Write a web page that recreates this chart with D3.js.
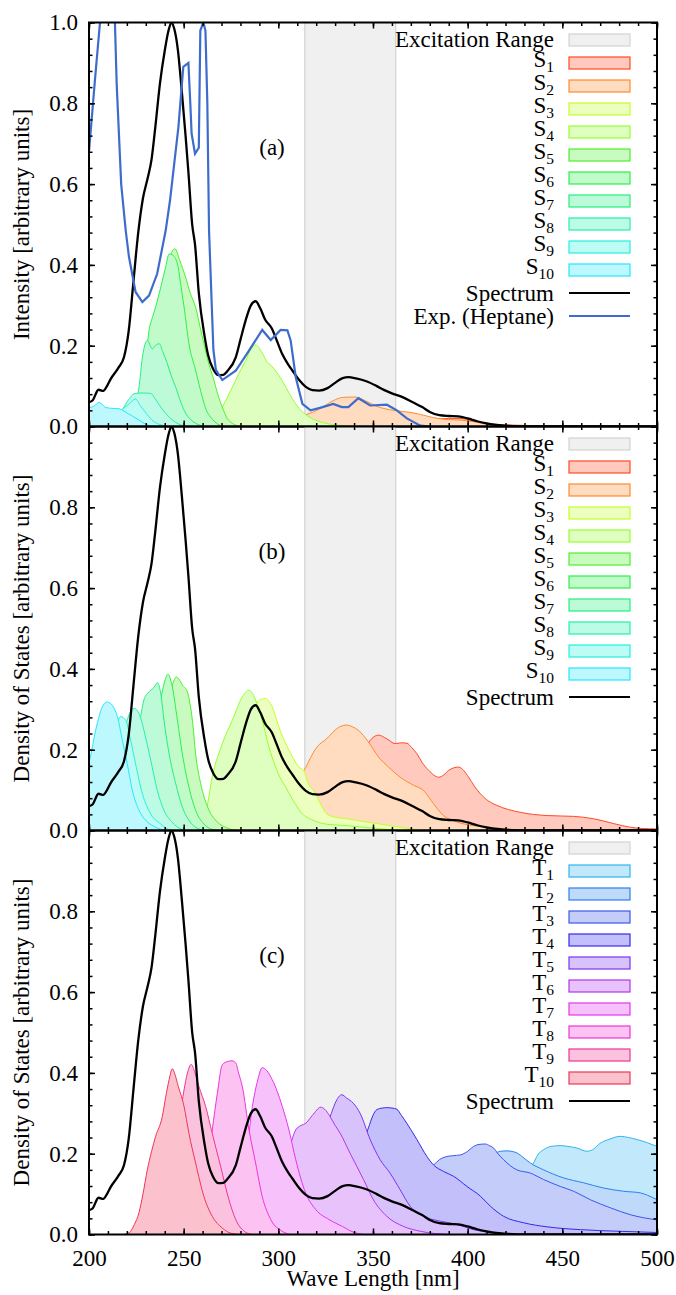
<!DOCTYPE html>
<html>
<head>
<meta charset="utf-8">
<script src="https://cdn.jsdelivr.net/npm/d3@7"></script>
<style>
  body { margin: 0; background: #fff; }
  svg { display: block; }
  svg text { font-family: "Liberation Serif", "Times New Roman", Times, "DejaVu Serif", "Noto Serif", serif !important; fill: #000; }
</style>
</head>
<body>
<div id="chart"></div>
<script>
//Values, [wavelength nm, intensity]
const spectrum = [[200,0.06],[202,0.065],[205,0.091],[207.5,0.088],[209.5,0.1],[211.5,0.118],[215.5,0.145],[218.5,0.172],[221,0.238],[223.5,0.36],[226,0.48],[228.5,0.565],[231,0.615],[233,0.66],[235,0.74],[237.5,0.85],[240,0.93],[242,0.98],[243.5,1.0],[245,0.985],[247,0.93],[249,0.83],[251,0.72],[252.5,0.63],[254.5,0.5],[256,0.45],[258,0.33],[261,0.225],[263,0.175],[265.5,0.143],[268.5,0.127],[271,0.128],[273,0.137],[277.5,0.171],[280,0.215],[282.7,0.262],[285.5,0.3],[288,0.31],[290.5,0.292],[293,0.265],[296.5,0.243],[299,0.215],[302,0.18],[305,0.155],[307.5,0.138],[311,0.115],[314.5,0.098],[318,0.09],[321.5,0.089],[326,0.095],[330,0.108],[334,0.12],[337,0.122],[341,0.119],[346.5,0.112],[352,0.1],[356,0.09],[360,0.082],[365,0.074],[371,0.06],[376,0.048],[380,0.036],[385,0.028],[390,0.026],[395,0.025],[400,0.02],[405,0.013],[410,0.008],[415,0.004],[420,0.002],[430,0],[500,0]];

const expHeptane = [[200,0.68],[203,0.85],[205.8,1.0],[208,1.15],[211,1.15],[213.7,1.0],[214.6,0.85],[217,0.6],[219.4,0.485],[221.1,0.42],[224.6,0.333],[228.2,0.308],[231.7,0.324],[236,0.378],[240.5,0.485],[242.8,0.56],[245,0.65],[247.2,0.74],[249.8,0.89],[252.5,0.9],[253.5,0.8],[254.2,0.725],[256,0.675],[258,0.69],[258.8,0.98],[260.4,1.0],[261.5,0.98],[262.5,0.8],[263.4,0.485],[265.7,0.19],[267,0.14],[270.4,0.115],[277.5,0.138],[284.5,0.188],[291.5,0.239],[296,0.214],[301.2,0.239],[304.8,0.238],[306.5,0.213],[309.2,0.122],[312.7,0.056],[317,0.04],[322,0.046],[329,0.056],[333.5,0.048],[337,0.048],[342.3,0.07],[348.5,0.052],[357.3,0.054],[362.6,0.04],[367.9,0.02],[375,0.002],[380,0]];

//panel (a): singlets weighted
const s1a = [[320,0],[330,0.005],[340,0.012],[350,0.02],[355,0.022],[362,0.02],[370,0.02],[380,0.018],[390,0.02],[396,0.02],[402,0.015],[410,0.008],[420,0.004],[440,0.002],[460,0.001],[500,0]];
const s2a = [[295,0],[305,0.01],[312,0.025],[318,0.035],[324,0.05],[329,0.064],[334,0.072],[340.5,0.073],[346.7,0.062],[352,0.05],[360.7,0.04],[369.6,0.035],[375,0.03],[381.8,0.022],[390,0.017],[396,0.016],[403,0.012],[410,0.006],[420,0.002],[430,0]];
const s3a = [[265,0],[280,0.005],[290,0.01],[300,0.012],[310,0.008],[320,0.004],[335,0]];
const s4a = [[262,0],[266,0.012],[270.4,0.048],[275.7,0.097],[279,0.13],[282.7,0.163],[286,0.195],[288,0.202],[291.5,0.182],[294,0.16],[296,0.152],[299,0.135],[302,0.114],[306,0.08],[309,0.057],[313,0.035],[316.2,0.024],[323.2,0.01],[330,0.004],[340,0]];
const s5a = [[225,0],[230,0.03],[235,0.15],[238,0.28],[241,0.38],[243.5,0.43],[245.4,0.44],[248,0.41],[251,0.37],[253.5,0.33],[256.3,0.295],[258.5,0.25],[260.7,0.205],[263,0.16],[266,0.114],[268,0.08],[270.4,0.048],[273,0.02],[275.7,0.008],[280,0]];
const s6a = [[222,0],[226,0.02],[229,0.1],[231.7,0.238],[233.5,0.27],[235.2,0.296],[237.9,0.345],[240.5,0.395],[242.3,0.427],[244,0.425],[246.7,0.403],[248.5,0.35],[250.2,0.296],[252.8,0.205],[256.3,0.139],[259.9,0.072],[262,0.04],[264.3,0.023],[268,0.006],[272,0]];
const s7a = [[218,0],[222,0.02],[224.5,0.06],[226.4,0.097],[228.2,0.171],[230.8,0.213],[233.5,0.192],[235,0.2],[237,0.205],[239,0.185],[241.4,0.155],[243.5,0.125],[245.8,0.097],[248.5,0.06],[251,0.033],[253.5,0.018],[256.3,0.008],[262,0]];
const s8a = [[210,0],[214,0.015],[217,0.035],[219.4,0.056],[221.5,0.07],[223.8,0.081],[228,0.083],[232.6,0.082],[235,0.068],[237.9,0.048],[241,0.03],[244,0.016],[247,0.007],[252,0]];
const s9a = [[210,0],[214,0.03],[218,0.044],[221,0.055],[224.6,0.068],[227,0.052],[229,0.04],[231.5,0.025],[234.3,0.012],[238,0.004],[242,0]];
const s10a = [[200,0.047],[202.5,0.05],[205.3,0.06],[208.8,0.047],[212,0.045],[215.8,0.044],[218.5,0.038],[221,0.031],[223.5,0.024],[226.4,0.016],[229,0.008],[232,0.002],[236,0]];

//panel (b): singlet density of states
const s1b = [[315,0],[322,0.015],[330,0.05],[338,0.12],[344,0.18],[348.5,0.223],[352.9,0.236],[357.3,0.227],[361.7,0.215],[365,0.217],[367.9,0.216],[370.5,0.205],[373.2,0.19],[376,0.168],[379.4,0.149],[384.7,0.132],[387.5,0.138],[390,0.149],[395.2,0.157],[398,0.148],[400.5,0.132],[403.5,0.11],[406.7,0.091],[411,0.073],[415.5,0.062],[427.8,0.045],[441.9,0.037],[456,0.035],[466.6,0.029],[477.2,0.017],[486,0.008],[492,0.005],[500,0.004]];
const s2b = [[288,0],[293,0.01],[298,0.03],[303,0.07],[308,0.11],[311.5,0.14],[313.6,0.149],[317,0.18],[320.3,0.206],[325.5,0.227],[329.9,0.248],[333,0.258],[336.1,0.261],[339,0.257],[342.3,0.248],[347.6,0.219],[352.9,0.182],[358.2,0.157],[364.3,0.132],[371.4,0.112],[376.7,0.099],[382,0.066],[387.2,0.037],[394.3,0.021],[403,0.012],[413.6,0.007],[422,0.003],[432,0]];
const s3b = [[262,0],[266,0.02],[270,0.06],[275,0.13],[280,0.2],[285,0.27],[289,0.318],[291,0.325],[293.3,0.327],[295,0.32],[296.8,0.306],[299,0.275],[301.2,0.245],[305.6,0.199],[311,0.157],[313.2,0.149],[316.2,0.112],[318.5,0.099],[323.2,0.058],[325.5,0.041],[330,0.033],[336.1,0.029],[346.6,0.021],[359,0.012],[370,0.004],[380,0]];
const s4b = [[258,0],[262,0.05],[265.1,0.133],[270.4,0.215],[275.7,0.273],[281,0.331],[284.5,0.347],[286,0.342],[288,0.323],[291.5,0.273],[295,0.207],[298.6,0.157],[301,0.13],[303.9,0.107],[307.9,0.074],[312,0.045],[318.5,0.025],[325,0.016],[336,0.012],[350,0.006],[365,0]];
const s5b = [[225,0],[229,0.02],[233,0.08],[237,0.18],[240,0.27],[242,0.33],[244,0.36],[246.1,0.38],[247.5,0.375],[249.3,0.36],[251.9,0.344],[253.5,0.31],[254.6,0.273],[256.3,0.19],[259,0.116],[261,0.08],[263.4,0.05],[267.8,0.021],[272,0.008],[278,0]];
const s6b = [[220,0],[224,0.02],[228,0.08],[231,0.16],[234,0.24],[236.5,0.3],[238.5,0.34],[240,0.37],[241.7,0.387],[243,0.375],[244,0.356],[246.7,0.273],[249.3,0.19],[252.8,0.107],[256.3,0.05],[260.7,0.016],[265,0.003],[270,0]];
const s7b = [[212,0],[216,0.015],[218.5,0.04],[221,0.091],[223.8,0.174],[226.4,0.256],[229,0.323],[231,0.34],[232.6,0.347],[234.5,0.355],[236.1,0.366],[237.9,0.339],[239.6,0.273],[242.3,0.19],[245.8,0.116],[249.3,0.058],[252.8,0.025],[257,0.006],[262,0]];
const s8b = [[205,0],[208,0.015],[211.4,0.058],[215,0.141],[217.6,0.207],[220.2,0.273],[223.8,0.302],[226.4,0.29],[229,0.248],[232.6,0.174],[236.1,0.099],[239.6,0.05],[244,0.02],[248,0.005],[252,0]];
const s9b = [[200,0.005],[203.5,0.033],[207,0.091],[210.6,0.174],[214,0.25],[216.7,0.282],[219.4,0.273],[222,0.223],[224.6,0.165],[228.2,0.091],[232.6,0.041],[237.9,0.016],[242,0.003],[246,0]];
const s10b = [[200,0.165],[201.5,0.2],[203.5,0.248],[205.5,0.285],[207,0.306],[209.7,0.318],[212.3,0.31],[213.5,0.3],[215,0.282],[217.6,0.223],[220.2,0.165],[222.9,0.099],[226.4,0.05],[230,0.025],[235.2,0.008],[240,0]];

//panel (c): triplet density of states
const t1c = [[400,0],[410,0.01],[420,0.05],[427,0.1],[431,0.15],[434.8,0.177],[437,0.197],[440.1,0.21],[444,0.218],[448.9,0.22],[453,0.218],[457.7,0.214],[463,0.206],[466,0.21],[470,0.226],[475,0.236],[480.6,0.243],[485,0.24],[489.4,0.235],[495,0.227],[500,0.218]];
const t2c = [[370,0],[380,0.02],[390,0.05],[400,0.12],[410,0.18],[417.3,0.206],[420.8,0.207],[424,0.205],[426,0.202],[429.5,0.19],[433.1,0.177],[440.1,0.16],[450.7,0.14],[461.2,0.128],[471.8,0.115],[482.4,0.107],[491.2,0.103],[495,0.097],[500,0.086]];
const t3c = [[340,0],[350,0.03],[360,0.08],[370,0.13],[378,0.16],[382,0.172],[385,0.185],[389,0.193],[392,0.195],[396.1,0.197],[400,0.206],[403.1,0.218],[406,0.223],[409.3,0.224],[411.5,0.22],[413.7,0.214],[416,0.2],[419,0.185],[426,0.16],[433.1,0.152],[440.1,0.136],[448.9,0.119],[456,0.107],[464.8,0.086],[475.4,0.066],[485.9,0.049],[500,0.036]];
const t4c = [[315,0],[322,0.03],[330,0.1],[338,0.17],[344,0.22],[347.6,0.264],[350,0.295],[352,0.309],[355,0.313],[357.3,0.314],[360,0.313],[362.6,0.31],[365,0.295],[367.9,0.275],[373.2,0.235],[378.5,0.193],[382,0.172],[387.3,0.156],[392.6,0.144],[399.6,0.119],[406.7,0.095],[412,0.07],[419,0.045],[429.6,0.029],[441.9,0.019],[459.5,0.012],[480,0.008],[500,0.005]];
const t5c = [[300,0],[305,0.02],[310,0.06],[315,0.12],[320,0.19],[325,0.26],[328,0.3],[330.5,0.33],[333.5,0.346],[336,0.338],[339.6,0.325],[343.2,0.3],[348.5,0.235],[353.8,0.185],[359,0.152],[364.3,0.111],[369.6,0.07],[376.7,0.045],[385.5,0.033],[394.3,0.025],[403,0.012],[412,0.005],[430,0]];
const t6c = [[285,0],[290,0.02],[295,0.06],[300,0.12],[305,0.2],[309.2,0.259],[312,0.27],[314.4,0.275],[318,0.295],[322.4,0.315],[324.5,0.31],[327.3,0.292],[330,0.27],[332.6,0.251],[337.9,0.201],[345,0.136],[350.2,0.086],[357.3,0.045],[366.1,0.02],[375,0.008],[390,0]];
const t7c = [[265,0],[270,0.02],[275,0.07],[280,0.15],[283.6,0.22],[286.3,0.317],[289,0.38],[291.5,0.413],[294,0.405],[296.8,0.383],[302.1,0.317],[305.6,0.259],[309.2,0.185],[314.4,0.103],[319.7,0.062],[326.8,0.037],[333.8,0.02],[340,0.005],[345,0]];
const t8c = [[245,0],[250,0.005],[255,0.03],[259,0.08],[262,0.15],[265.1,0.259],[267.8,0.35],[270.4,0.42],[273,0.428],[275.5,0.43],[277.5,0.425],[279,0.4],[281,0.366],[284.5,0.259],[288,0.177],[291.5,0.094],[296,0.037],[302.1,0.008],[306,0]];
const t9c = [[228,0],[233,0.01],[237,0.04],[241,0.1],[245,0.2],[248,0.29],[250.2,0.358],[252,0.4],[254,0.421],[256,0.4],[258.1,0.366],[261.6,0.317],[265.1,0.25],[269.5,0.169],[273.9,0.086],[278.3,0.029],[282,0.008],[286,0]];
const t10c = [[218,0],[221.1,0.004],[224,0.025],[226.4,0.054],[228.5,0.1],[230.8,0.16],[233,0.205],[235.2,0.243],[238.7,0.292],[240.5,0.34],[242.3,0.383],[244,0.41],[245.5,0.395],[246.7,0.374],[250.2,0.317],[252.8,0.25],[256.3,0.177],[260.7,0.094],[265.1,0.045],[270.4,0.016],[275,0.003],[280,0]];

const stateNumbers = ["1","2","3","4","5","6","7","8","9","10"];
const excitationRange = [314, 362];
const xTicks = [200, 250, 300, 350, 400, 450, 500];
const yTicksFull = [0, 0.2, 0.4, 0.6, 0.8, 1.0];
const yTicksCut = [0, 0.2, 0.4, 0.6, 0.8];
const panelLetters = ["(a)", "(b)", "(c)"];

let width = 676;
let height = 1295;
let left = 89, right = 657;
let panelHeight = 404;
let panelTops = [22.5, 426.5, 830.5];
let serif = "'Liberation Serif', 'Times New Roman', Times, 'DejaVu Serif', serif";
let fontSize = "23px";

let singletColours = ["#ff4a24", "#ff8a2c", "#c4ff28", "#94ff30", "#4cf02c", "#2cf04c", "#24f07c", "#24f0ac", "#24f0dc", "#24e6ff"];
let tripletColours = ["#30b4f0", "#2a80ef", "#3a58ea", "#3428ee", "#7a34f0", "#b034f0", "#e434f0", "#f034d4", "#f03494", "#f03458"];

let svg = d3.select("#chart").append("svg")
            .attr("width", width)
            .attr("height", height)
            .attr("font-family", serif);

let x = d3.scaleLinear().domain([200, 500]).range([left, right]);

drawPanel(0, [s1a,s2a,s3a,s4a,s5a,s6a,s7a,s8a,s9a,s10a], singletColours, "S", true, "Intensity [arbitrary units]", yTicksFull);
drawPanel(1, [s1b,s2b,s3b,s4b,s5b,s6b,s7b,s8b,s9b,s10b], singletColours, "S", false, "Density of States [arbitrary units]", yTicksCut);
drawPanel(2, [t1c,t2c,t3c,t4c,t5c,t6c,t7c,t8c,t9c,t10c], tripletColours, "T", false, "Density of States [arbitrary units]", yTicksCut);

//x axis title
svg.append("text")
   .attr("x", (left + right) / 2)
   .attr("y", 1286)
   .attr("text-anchor", "middle")
   .style("font-size", fontSize)
   .text("Wave Length [nm]");

/*drawPanel: draws one of the three stacked panels
*Parameters:
*   index of the panel, the state curves, their colours, state letter,
*   whether the experiment is drawn, y title and y tick values
*Returns:
*   None
*/
function drawPanel(i, states, colours, letter, withExp, yTitle, yTicks) {
    let top = panelTops[i];
    let bottom = top + panelHeight;
    let y = d3.scaleLinear().domain([0, 1]).range([bottom, top]);
    let g = svg.append("g");

    let clipId = "clip" + i;
    svg.append("clipPath").attr("id", clipId)
       .append("rect")
       .attr("x", left).attr("y", top)
       .attr("width", right - left).attr("height", panelHeight);

    let plot = g.append("g").attr("clip-path", "url(#" + clipId + ")");

    //excitation band first, everything else lies on it
    plot.append("rect")
        .attr("x", x(excitationRange[0]))
        .attr("y", top)
        .attr("width", x(excitationRange[1]) - x(excitationRange[0]))
        .attr("height", panelHeight)
        .style("fill", "#f0f0f0");
    excitationRange.forEach(function(e) {
        plot.append("line")
            .attr("x1", x(e)).attr("x2", x(e))
            .attr("y1", top).attr("y2", bottom)
            .style("stroke", "#d2d2d2")
            .style("stroke-width", 1.2);
    });

    let area = d3.area()
                 .x(d => x(d[0]))
                 .y0(y(0))
                 .y1(d => y(d[1]))
                 .curve(d3.curveMonotoneX);
    let outline = d3.line()
                    .x(d => x(d[0]))
                    .y(d => y(d[1]))
                    .curve(d3.curveMonotoneX);

    //state 1 at the back, state 10 at the front
    states.forEach(function(pts, k) {
        plot.append("path")
            .attr("d", area(pts))
            .style("fill", d3.interpolateRgb(colours[k], "#ffffff")(0.7));
        plot.append("path")
            .attr("d", outline(pts))
            .style("fill", "none")
            .style("stroke", colours[k])
            .style("stroke-width", 1);
    });

    plot.append("path")
        .attr("d", outline(spectrum))
        .style("fill", "none")
        .style("stroke", "#000")
        .style("stroke-width", 2.3);

    if (withExp) {
        let straight = d3.line().x(d => x(d[0])).y(d => y(d[1]));
        plot.append("path")
            .attr("d", straight(expHeptane))
            .style("fill", "none")
            .style("stroke", "#3d6ccc")
            .style("stroke-width", 2.2);
    }

    //ticks on all four sides, pointing in
    let minorY = d3.range(0, 1.001, 0.04);
    let minorX = d3.range(200, 501, 10);
    let fmt = d3.format(".1f");

    g.append("g").attr("transform", "translate(" + left + ",0)")
     .call(d3.axisLeft(y).tickValues(yTicks).tickSize(-6).tickPadding(11).tickFormat(fmt));
    g.append("g").attr("transform", "translate(" + left + ",0)")
     .call(d3.axisLeft(y).tickValues(minorY).tickSize(-3.5).tickFormat(""));
    g.append("g").attr("transform", "translate(" + right + ",0)")
     .call(d3.axisRight(y).tickValues(yTicksFull).tickSize(-6).tickFormat(""));
    g.append("g").attr("transform", "translate(" + right + ",0)")
     .call(d3.axisRight(y).tickValues(minorY).tickSize(-3.5).tickFormat(""));

    g.append("g").attr("transform", "translate(0," + top + ")")
     .call(d3.axisTop(x).tickValues(xTicks).tickSize(-6).tickFormat(""));
    g.append("g").attr("transform", "translate(0," + top + ")")
     .call(d3.axisTop(x).tickValues(minorX).tickSize(-3.5).tickFormat(""));
    g.append("g").attr("transform", "translate(0," + bottom + ")")
     .call(d3.axisBottom(x).tickValues(xTicks).tickSize(-6).tickPadding(15)
             .tickFormat(i == 2 ? d3.format("d") : ""));
    g.append("g").attr("transform", "translate(0," + bottom + ")")
     .call(d3.axisBottom(x).tickValues(minorX).tickSize(-3.5).tickFormat(""));

    g.selectAll(".domain").remove();
    g.selectAll("g").attr("font-family", serif);
    g.selectAll(".tick line").style("stroke", "#000").style("stroke-width", 1.5);
    g.selectAll(".tick text")
     .style("font-size", fontSize)
     .style("font-family", serif)
     .style("fill", "#000");

    g.append("rect")
     .attr("x", left).attr("y", top)
     .attr("width", right - left).attr("height", panelHeight)
     .style("fill", "none")
     .style("stroke", "#000")
     .style("stroke-width", 2);

    //y title
    g.append("text")
     .attr("transform", "translate(29," + (top + panelHeight / 2) + ") rotate(-90)")
     .attr("text-anchor", "middle")
     .style("font-size", fontSize)
     .text(yTitle);

    //panel letter
    g.append("text")
     .attr("x", 272)
     .attr("y", top + 132)
     .attr("text-anchor", "middle")
     .style("font-size", fontSize)
     .text(panelLetters[i]);

    drawLegend(g, top, colours, letter, withExp);
}

/*drawLegend: legend in the upper right of a panel
*Parameters:
*   group, panel top, colours, state letter, whether the experiment row is shown
*Returns:
*   None
*/
function drawLegend(g, top, colours, letter, withExp) {
    let textX = 554, boxX = 569, boxW = 61, step = 23;
    let row = 0;
    let cy = top + 17.5;

    g.append("text").attr("x", textX).attr("y", cy + 7)
     .attr("text-anchor", "end").style("font-size", fontSize)
     .text("Excitation Range");
    g.append("rect").attr("x", boxX).attr("y", cy - 6).attr("width", boxW).attr("height", 12)
     .style("fill", "#f0f0f0").style("stroke", "#d2d2d2").style("stroke-width", 1.2);

    stateNumbers.forEach(function(n, k) {
        row++;
        let c = cy + row * step;
        let t = g.append("text").attr("x", textX).attr("y", c + 4)
                 .attr("text-anchor", "end").style("font-size", fontSize);
        t.append("tspan").text(letter);
        t.append("tspan").attr("dy", 5).style("font-size", "15.5px").text(n);
        g.append("rect").attr("x", boxX).attr("y", c - 6).attr("width", boxW).attr("height", 12)
         .style("fill", d3.interpolateRgb(colours[k], "#ffffff")(0.7))
         .style("stroke", colours[k]).style("stroke-width", 1.2);
    });

    let lines = [["Spectrum", "#000"]];
    if (withExp) lines.push(["Exp. (Heptane)", "#3d6ccc"]);
    lines.forEach(function(l) {
        row++;
        let c = cy + row * step;
        g.append("text").attr("x", textX).attr("y", c + 7.5)
         .attr("text-anchor", "end").style("font-size", fontSize)
         .text(l[0]);
        g.append("line").attr("x1", boxX).attr("x2", boxX + boxW)
         .attr("y1", c).attr("y2", c)
         .style("stroke", l[1]).style("stroke-width", 2.2);
    });
}
</script>
</body>
</html>
